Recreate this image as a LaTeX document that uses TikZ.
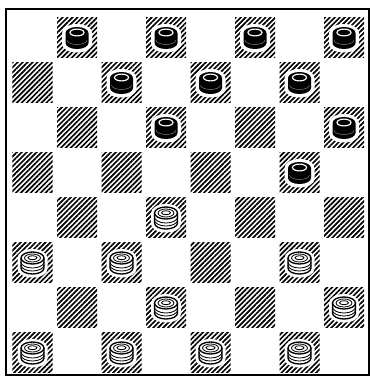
\documentclass[tikz,border=0pt]{standalone}
\usepackage{tikz}
\usetikzlibrary{patterns.meta}

\tikzset{
  darksq/.style={pattern={Lines[angle=45,distance=1.05mm,line width=0.5mm]}},
  blackman/.pic={
    % white halo
    \fill[white] (-15,-4) -- (-15,7) arc[start angle=180,end angle=0,x radius=15,y radius=8.5] -- (15,-4) arc[start angle=0,end angle=-180,x radius=15,y radius=9] -- cycle;
    % body and top
    \fill[black] (-11.5,-4) -- (-11.5,6) arc[start angle=180,end angle=0,x radius=11.5,y radius=6] -- (11.5,-4) arc[start angle=0,end angle=-180,x radius=11.5,y radius=6] -- cycle;
    \draw[white,line width=0.35mm] (0,-4.5) ellipse[x radius=7,y radius=3.4];
    \draw[gray,line width=0.15mm] (-10,3) arc[start angle=180,end angle=0,x radius=10,y radius=4.5];
  },
  whiteman/.pic={
    % white halo
    \fill[white] (-15,-4) -- (-15,7) arc[start angle=180,end angle=0,x radius=15,y radius=8.5] -- (15,-4) arc[start angle=0,end angle=-180,x radius=15,y radius=9] -- cycle;
    % body
    \draw[fill=white,line width=0.4mm] (-11.5,-4) -- (-11.5,6) arc[start angle=180,end angle=0,x radius=11.5,y radius=6] -- (11.5,-4);
    \draw[line width=0.25mm] (-11.5,0) arc[start angle=180,end angle=0,x radius=11.5,y radius=6];
    \draw[line width=0.25mm] (-11.5,3) arc[start angle=180,end angle=0,x radius=11.5,y radius=6];
    % top rings
    \draw[fill=white,line width=0.4mm] (0,-4) ellipse[x radius=11.5,y radius=6];
    \draw[line width=0.25mm] (0,-4) ellipse[x radius=8,y radius=4];
    \draw[line width=0.25mm] (0,-4.3) ellipse[x radius=4.5,y radius=2];
  }
}

\begin{document}
\begin{tikzpicture}[x=0.3mm,y=-0.3mm]
\useasboundingbox (0,0) rectangle (371,377);

% frame of the board
\draw[line width=0.6mm] (6,9) rectangle (369,375);

% dark squares
\foreach \r in {1,...,8}{
  \foreach \c in {1,...,8}{
    \pgfmathtruncatemacro{\odd}{mod(\r+\c,2)}
    \ifnum\odd=1
      \fill[darksq] ({32.5+44.5*(\c-1)-20},{37+45*(\r-1)-20}) rectangle ++(40,40);
    \fi
  }
}

% black men
\foreach \c/\r in {2/1,4/1,6/1,8/1,3/2,5/2,7/2,4/3,8/3,7/4}
  \pic at ({32.5+44.5*(\c-1)},{37+45*(\r-1)}) {blackman};

% white men
\foreach \c/\r in {4/5,1/6,3/6,7/6,4/7,8/7,1/8,3/8,5/8,7/8}
  \pic at ({32.5+44.5*(\c-1)},{37+45*(\r-1)}) {whiteman};

\end{tikzpicture}
\end{document}
